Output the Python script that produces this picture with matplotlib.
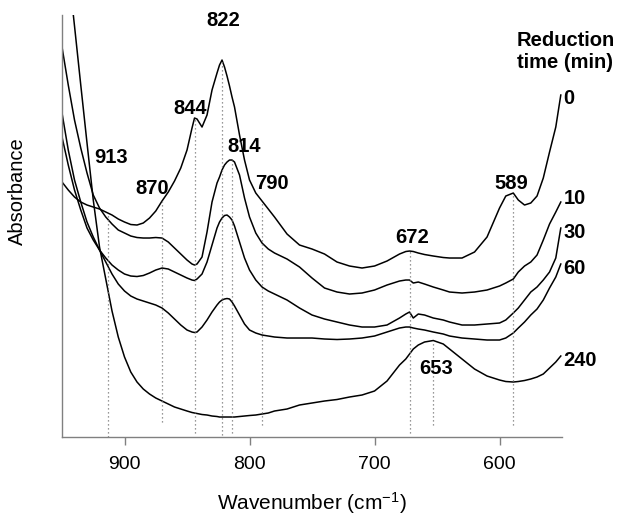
import numpy as np
import matplotlib.pyplot as plt

plt.rcParams['font.family'] = ['Liberation Sans', 'DejaVu Sans']
plt.rcParams['mathtext.fontset'] = 'custom'
plt.rcParams['mathtext.rm'] = 'Liberation Sans'
plt.rcParams['mathtext.it'] = 'Liberation Sans:italic'

# wavenumber grid (cm-1), shared by all spectra
wn = [950, 945, 940, 935, 930, 925, 920, 915, 910, 905,
      900, 895, 890, 885, 880, 875, 870, 865, 860, 855,
      850, 846, 844, 842, 838, 834, 830, 826, 824, 822,
      820, 818, 816, 814, 812, 808, 804, 800, 795, 790,
      785, 780, 770, 760, 750, 740, 730, 720, 710, 700,
      690, 680, 675, 672, 669, 665, 660, 653, 645, 640,
      630, 620, 610, 600, 595, 589, 585, 580, 575, 570,
      565, 560, 555, 551]

# absorbance (a.u., stacked) for each reduction time
abs_0 = [2.55, 2.47, 2.40, 2.35, 2.32, 2.30, 2.28, 2.25, 2.22, 2.18,
         2.15, 2.125, 2.12, 2.14, 2.19, 2.26, 2.36, 2.45, 2.56, 2.69,
         2.87, 3.09, 3.19, 3.18, 3.10, 3.22, 3.47, 3.64, 3.72, 3.77,
         3.70, 3.61, 3.51, 3.40, 3.30, 3.02, 2.77, 2.57, 2.44, 2.36,
         2.28, 2.20, 2.03, 1.92, 1.88, 1.83, 1.75, 1.71, 1.69, 1.71,
         1.76, 1.83, 1.855, 1.86, 1.855, 1.84, 1.825, 1.81, 1.795, 1.79,
         1.79, 1.85, 2.00, 2.29, 2.41, 2.44, 2.37, 2.32, 2.34, 2.41,
         2.59, 2.85, 3.10, 3.42]
abs_10 = [3.90, 3.52, 3.17, 2.89, 2.64, 2.42, 2.29, 2.20, 2.13, 2.07,
          2.04, 2.01, 1.995, 1.99, 1.99, 1.995, 1.99, 1.95, 1.89, 1.83,
          1.77, 1.73, 1.72, 1.73, 1.80, 2.05, 2.35, 2.54, 2.60, 2.67,
          2.72, 2.75, 2.77, 2.77, 2.75, 2.62, 2.39, 2.20, 2.04, 1.94,
          1.88, 1.84, 1.78, 1.70, 1.59, 1.49, 1.45, 1.43, 1.44, 1.47,
          1.52, 1.56, 1.57, 1.57, 1.54, 1.55, 1.53, 1.50, 1.47, 1.45,
          1.44, 1.45, 1.47, 1.51, 1.54, 1.58, 1.65, 1.71, 1.75, 1.82,
          1.97, 2.13, 2.25, 2.35]
abs_30 = [3.00, 2.72, 2.47, 2.27, 2.09, 1.97, 1.87, 1.79, 1.72, 1.67,
          1.63, 1.61, 1.605, 1.615, 1.64, 1.67, 1.69, 1.68, 1.65, 1.62,
          1.59, 1.57, 1.565, 1.58, 1.63, 1.75, 1.92, 2.09, 2.15, 2.19,
          2.215, 2.22, 2.20, 2.17, 2.11, 1.95, 1.79, 1.67, 1.57, 1.50,
          1.46, 1.43, 1.37, 1.29, 1.22, 1.18, 1.15, 1.12, 1.10, 1.10,
          1.12, 1.19, 1.23, 1.25, 1.19, 1.23, 1.22, 1.19, 1.17, 1.15,
          1.12, 1.12, 1.13, 1.14, 1.17, 1.24, 1.29, 1.37, 1.45, 1.50,
          1.57, 1.65, 1.79, 2.09]
abs_60 = [3.24, 2.87, 2.57, 2.35, 2.15, 2.00, 1.87, 1.75, 1.63, 1.53,
          1.46, 1.41, 1.38, 1.36, 1.34, 1.32, 1.29, 1.24, 1.18, 1.12,
          1.07, 1.05, 1.045, 1.05, 1.10, 1.17, 1.25, 1.32, 1.35, 1.37,
          1.38, 1.385, 1.38, 1.35, 1.31, 1.22, 1.13, 1.07, 1.04, 1.02,
          1.01, 1.00, 0.99, 0.99, 0.99, 0.98, 0.975, 0.98, 0.99, 1.01,
          1.05, 1.09, 1.10, 1.10, 1.09, 1.08, 1.07, 1.05, 1.03, 1.01,
          0.99, 0.98, 0.97, 0.97, 0.99, 1.04, 1.09, 1.15, 1.22, 1.28,
          1.37, 1.49, 1.60, 1.73]
abs_240 = [5.27, 4.69, 4.11, 3.52, 2.94, 2.37, 1.90, 1.58, 1.26, 1.00,
           0.80, 0.65, 0.55, 0.48, 0.43, 0.39, 0.36, 0.33, 0.30, 0.28,
           0.26, 0.245, 0.24, 0.235, 0.225, 0.22, 0.21, 0.205, 0.20, 0.20,
           0.20, 0.20, 0.20, 0.20, 0.20, 0.205, 0.21, 0.215, 0.22, 0.23,
           0.24, 0.26, 0.28, 0.32, 0.34, 0.36, 0.375, 0.40, 0.42, 0.46,
           0.56, 0.72, 0.78, 0.83, 0.88, 0.92, 0.95, 0.965, 0.93, 0.88,
           0.78, 0.68, 0.61, 0.57, 0.555, 0.55, 0.555, 0.565, 0.58, 0.60,
           0.63, 0.69, 0.75, 0.81]

times = ['0', '10', '30', '60', '240']
spectra = [abs_0, abs_10, abs_30, abs_60, abs_240]

# assigned bands: wavenumber, spectrum the marker starts from, foot of the marker
bands = [913, 870, 844, 822, 814, 790, 672, 653, 589]
band_curve = [0, 0, 0, 0, 1, 0, 0, 4, 0]
band_foot = [0.0, 0.15, 0.04, 0.02, 0.04, 0.12, 0.04, 0.12, 0.12]

fig = plt.figure(figsize=(6.22, 5.20), dpi=100)
ax = fig.add_axes([0.0997, 0.1596, 0.8039, 0.8115])

for y in spectra:
    ax.plot(wn, y, color='black', lw=1.1, solid_joinstyle='round')

wn_inc = np.array(wn)[::-1]
for b, c, foot in zip(bands, band_curve, band_foot):
    top = np.interp(b, wn_inc, np.array(spectra[c])[::-1])
    ax.plot([b, b], [foot, top], color='#777777', lw=0.9, ls=(0, (1, 2.2)))

# band labels
lab_kw = dict(fontsize=14.5, fontweight='bold', ha='center', va='center')
ax.text(820.7, 4.17, '822', **lab_kw)
ax.text(847.8, 3.29, '844', **lab_kw)
ax.text(804.7, 2.91, '814', **lab_kw)
ax.text(910.9, 2.80, '913', **lab_kw)
ax.text(878.1, 2.49, '870', **lab_kw)
ax.text(782.3, 2.54, '790', **lab_kw)
ax.text(669.8, 2.00, '672', **lab_kw)
ax.text(590.7, 2.54, '589', **lab_kw)
ax.text(650.6, 0.69, '653', **lab_kw)

# reduction time at the end of each trace
time_y = [3.39, 2.39, 2.05, 1.69, 0.77]
for t, y in zip(times, time_y):
    ax.text(549.0, y, t, fontsize=14.5, fontweight='bold', ha='left', va='center')
ax.text(586, 3.97, 'Reduction', fontsize=14.5, fontweight='bold', ha='left', va='center')
ax.text(586, 3.75, 'time (min)', fontsize=14.5, fontweight='bold', ha='left', va='center')

ax.set_xlim(950, 550)
ax.set_ylim(0, 4.22)
ax.set_xticks([900, 800, 700, 600])
ax.set_yticks([])
ax.tick_params(axis='x', direction='out', length=6, width=1, color='#808080',
               labelsize=14, pad=8)
for side in ['top', 'right']:
    ax.spines[side].set_visible(False)
for side in ['left', 'bottom']:
    ax.spines[side].set_color('#808080')
    ax.spines[side].set_linewidth(1.0)

ax.set_xlabel('Wavenumber (cm$^{-1}$)', fontsize=15)
ax.xaxis.set_label_coords(0.5, -0.125)
ax.set_ylabel('Absorbance', fontsize=14.5)
ax.yaxis.set_label_coords(-0.07, 0.583)

fig.savefig('out.png', dpi=100)
